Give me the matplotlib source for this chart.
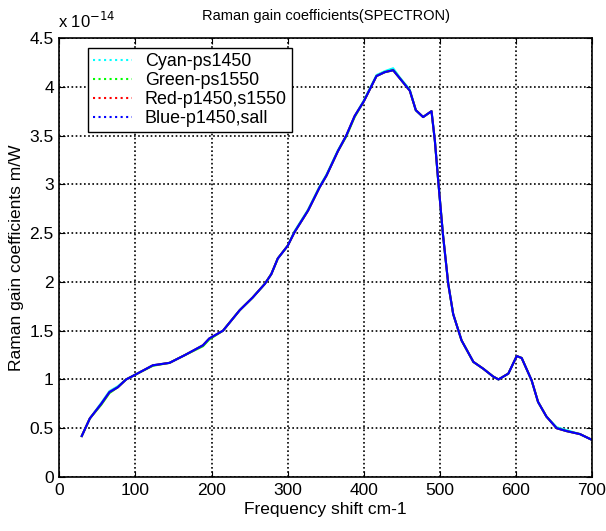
import matplotlib.pyplot as plt
from matplotlib.lines import Line2D

plt.rcParams['font.family'] = ['Liberation Sans', 'DejaVu Sans']

# frequency shift (cm-1) and gain (x 1e-14 m/W)
shift = [29.4, 40, 55, 65.8, 76.8, 87.7, 100, 122.8, 144.7, 165, 188.6, 197,
         215, 237, 254, 270, 278.5, 287, 300, 309, 326.7, 342, 351, 366, 377,
         388, 400, 416.7, 427.6, 438.6, 447, 460.5, 468.4, 478, 489, 493.4,
         497.8, 504, 511, 517.5, 528.5, 544, 557, 570, 577, 590, 601, 607.5,
         620.6, 629, 640, 653.5, 666.7, 684, 700]
blue = [0.42, 0.6, 0.75, 0.87, 0.92, 1.0, 1.05, 1.145, 1.17, 1.25, 1.35, 1.42,
        1.5, 1.71, 1.84, 1.98, 2.08, 2.24, 2.37, 2.51, 2.73, 2.97, 3.09, 3.34, 3.5,
        3.7, 3.85, 4.11, 4.15, 4.17, 4.09, 3.96, 3.76, 3.69, 3.75, 3.45,
        3.04, 2.49, 1.98, 1.67, 1.40, 1.18, 1.11, 1.03, 1.0, 1.06, 1.24, 1.22,
        0.99, 0.77, 0.62, 0.5, 0.47, 0.44, 0.38]
cyan = [0.42, 0.6, 0.76, 0.88, 0.93, 1.0, 1.05, 1.145, 1.17, 1.25, 1.35, 1.42,
        1.5, 1.71, 1.84, 1.98, 2.08, 2.24, 2.37, 2.52, 2.74, 2.98, 3.10, 3.35, 3.5,
        3.7, 3.86, 4.12, 4.16, 4.19, 4.10, 3.97, 3.76, 3.69, 3.75, 3.45,
        3.04, 2.49, 1.98, 1.67, 1.40, 1.18, 1.11, 1.03, 1.0, 1.06, 1.24, 1.22,
        0.99, 0.77, 0.62, 0.51, 0.48, 0.44, 0.38]
green = [0.42, 0.6, 0.74, 0.86, 0.92, 1.0, 1.05, 1.14, 1.17, 1.25, 1.34, 1.41,
         1.5, 1.71, 1.84, 1.98, 2.08, 2.24, 2.37, 2.51, 2.73, 2.97, 3.09, 3.34, 3.49,
         3.69, 3.85, 4.11, 4.15, 4.17, 4.09, 3.96, 3.76, 3.69, 3.75, 3.45,
         3.04, 2.49, 1.98, 1.67, 1.40, 1.18, 1.11, 1.03, 1.0, 1.06, 1.24, 1.22,
         0.99, 0.77, 0.62, 0.5, 0.47, 0.44, 0.38]
red = blue

labels = ['Cyan-ps1450', 'Green-ps1550', 'Red-p1450,s1550', 'Blue-p1450,sall']
colors = ['#00ffff', '#00ff00', '#ff0000', '#0000ff']

fig = plt.figure(figsize=(6.06, 5.31), dpi=100)
ax = fig.add_axes([0.098, 0.1017, 0.879, 0.8267])

for ys, c in zip([cyan, green, red, blue], colors):
    ax.plot(shift, ys, color=c, lw=1.5)

ax.set_xlim(0, 700)
ax.set_ylim(0, 4.5)
ax.set_xticks(range(0, 701, 100))
ax.set_yticks([0, 0.5, 1, 1.5, 2, 2.5, 3, 3.5, 4, 4.5])
ax.set_yticklabels(['0', '0.5', '1', '1.5', '2', '2.5', '3', '3.5', '4', '4.5'])
ax.grid(True, color='black', linestyle=(0, (1, 1.5)), linewidth=1.2)
ax.tick_params(direction='in', top=True, right=True, labelsize=12.5, length=4, pad=4)
for s in ax.spines.values():
    s.set_linewidth(1.2)

ax.set_xlabel('Frequency shift cm-1', fontsize=12.5, labelpad=3)
ax.set_ylabel('Raman gain coefficients m/W', fontsize=12.5, labelpad=4)
ax.set_title('Raman gain coefficients(SPECTRON)', fontsize=10.5, pad=13)
ax.text(-0.003, 1.015, r'x 10$^{-14}$', transform=ax.transAxes, fontsize=12,
        ha='left', va='bottom')

handles = [Line2D([], [], color=c, ls=':', lw=1.5) for c in colors]
leg = ax.legend(handles, labels, loc='upper left', bbox_to_anchor=(0.053, 0.977),
                fontsize=12.9, fancybox=False, framealpha=1, edgecolor='black',
                handlelength=2.2, handletextpad=0.7, borderpad=0.3,
                labelspacing=0.1, borderaxespad=0)
leg.get_frame().set_linewidth(1.0)

fig.savefig('out.png', dpi=100)
